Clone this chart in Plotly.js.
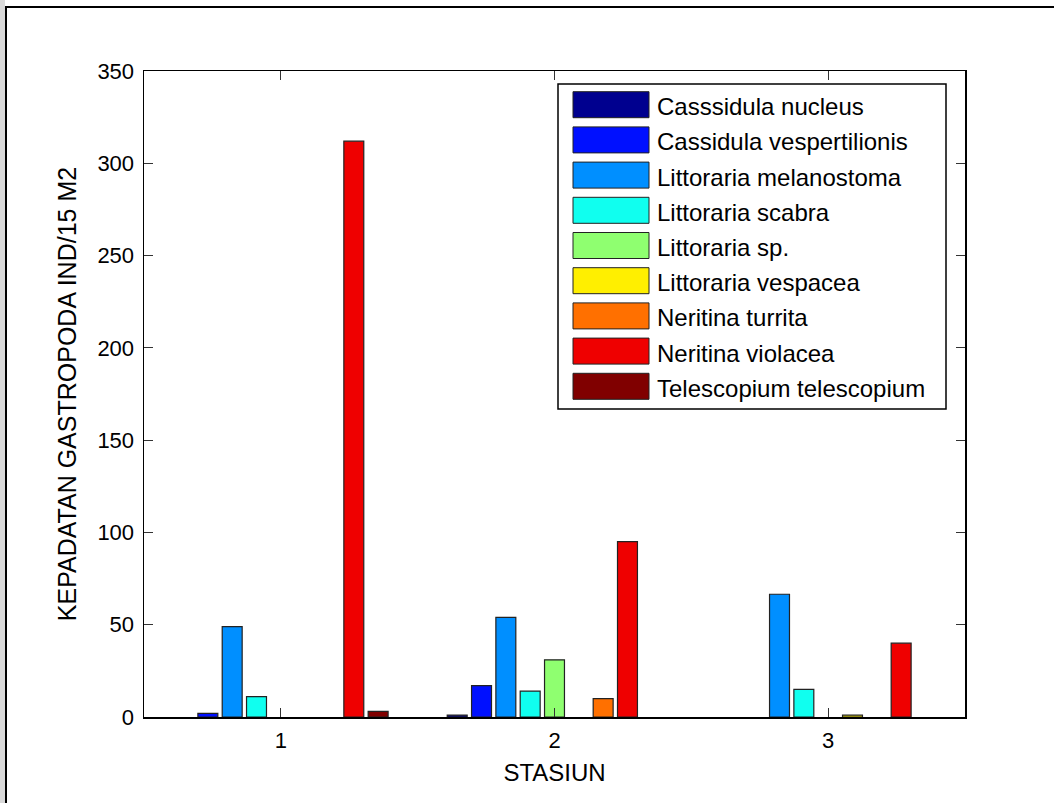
<!DOCTYPE html>
<html>
<head>
<meta charset="utf-8">
<script src="https://cdn.plot.ly/plotly-3.0.1.min.js"></script>
<style>
  html, body { margin: 0; padding: 0; background: #ffffff; }
  #wrap { position: relative; width: 1054px; height: 803px; overflow: hidden; }
  #chart { position: absolute; left: 0; top: 0; width: 1054px; height: 803px; }
  #strip { position: absolute; left: 0; top: 0; width: 5px; height: 803px; background: #d9d9d9; pointer-events: none; }
  #frame { position: absolute; left: 5px; top: 6px; width: 1060px; height: 820px;
           border-left: 2px solid #000; border-top: 2px solid #000; pointer-events: none; }
</style>
</head>
<body>
<div id="wrap">
  <div id="chart"></div>
  <div id="strip"></div>
  <div id="frame"></div>
</div>
<script>
// ---- data ----
const stations = [1, 2, 3];
const stationLabels = ['1', '2', '3'];
const species = [
  'Casssidula nucleus',
  'Cassidula vespertilionis',
  'Littoraria melanostoma',
  'Littoraria scabra',
  'Littoraria sp.',
  'Littoraria vespacea',
  'Neritina turrita',
  'Neritina violacea',
  'Telescopium telescopium'
];
const casssidulaNucleus       = [0, 1, 0];
const cassidulaVespertilionis = [2, 17, 0];
const littorariaMelanostoma   = [49, 54, 66.5];
const littorariaScabra        = [11, 14, 15];
const littorariaSp            = [0, 31, 0];
const littorariaVespacea      = [0, 0, 1];
const neritinaTurrita         = [0, 10, 0];
const neritinaViolacea        = [312, 95, 40];
const telescopiumTelescopium  = [3, 0, 0];
const seriesValues = [casssidulaNucleus, cassidulaVespertilionis, littorariaMelanostoma,
  littorariaScabra, littorariaSp, littorariaVespacea, neritinaTurrita, neritinaViolacea,
  telescopiumTelescopium];
const colors = ['#00008F', '#0010FF', '#008FFF', '#10FFEF', '#8FFF70', '#FFEF00', '#FF7000', '#EF0000', '#800000'];
const yTicks = [0, 50, 100, 150, 200, 250, 300, 350];

// ---- layout geometry ----
const W = 1054, H = 803;
const mL = 144, mR = 89, mT = 71, mB = 86;
const PW = W - mL - mR, PH = H - mT - mB;
const px2x = p => (p - mL) / PW;
const py2y = p => (H - mB - p) / PH;
const FONT = 'Arial, "Liberation Sans", Helvetica, sans-serif';

const traces = species.map((name, i) => ({
  type: 'bar',
  name: name,
  x: stations,
  y: seriesValues[i],
  marker: {
    color: colors[i],
    line: { color: '#222222', width: seriesValues[i].map(v => (v === 0 ? 0 : 1.2)) }
  },
  hoverinfo: 'x+y+name'
}));

// custom MATLAB-style legend
const shapes = [];
const annotations = [];
shapes.push({
  type: 'rect', xref: 'paper', yref: 'paper',
  x0: px2x(558), x1: px2x(946), y0: py2y(409), y1: py2y(84),
  fillcolor: '#ffffff', line: { color: '#000000', width: 1.5 }, layer: 'above'
});
const rowTop = 91.7, rowPitch = 35.2, swH = 26;
species.forEach((name, i) => {
  const top = rowTop + rowPitch * i;
  shapes.push({
    type: 'rect', xref: 'paper', yref: 'paper',
    x0: px2x(573), x1: px2x(649), y0: py2y(top + swH), y1: py2y(top),
    fillcolor: colors[i], line: { color: '#222222', width: 1 }, layer: 'above'
  });
  annotations.push({
    xref: 'paper', yref: 'paper', x: px2x(655), y: py2y(top + swH / 2 + 2),
    xanchor: 'left', yanchor: 'middle', showarrow: false,
    text: name, font: { family: FONT, size: 24, color: '#000000' }
  });
});

const layout = {
  width: W, height: H,
  margin: { l: mL, r: mR, t: mT, b: mB, pad: 0 },
  paper_bgcolor: 'rgba(0,0,0,0)',
  plot_bgcolor: '#ffffff',
  barmode: 'group',
  bargap: 0.2,
  bargroupgap: 0.18,
  showlegend: false,
  font: { family: FONT, color: '#000000' },
  xaxis: {
    range: [0.5, 3.5],
    tickmode: 'array', tickvals: stations, ticktext: stationLabels,
    ticks: 'inside', ticklen: 9, tickwidth: 1, tickcolor: '#333333',
    showline: true, linecolor: '#000000', linewidth: 1.5, mirror: 'ticks',
    showgrid: false, zeroline: false,
    tickfont: { family: FONT, size: 22, color: '#000000' },
    ticklabelstandoff: 3,
    title: { text: 'STASIUN', font: { family: FONT, size: 24, color: '#000000' }, standoff: 12 }
  },
  yaxis: {
    range: [0, 350],
    tickmode: 'array', tickvals: yTicks, ticktext: yTicks.map(String),
    ticks: 'inside', ticklen: 9, tickwidth: 1, tickcolor: '#333333',
    showline: true, linecolor: '#000000', linewidth: 1.5, mirror: 'ticks',
    showgrid: false, zeroline: false,
    tickfont: { family: FONT, size: 22, color: '#000000' },
    ticklabelstandoff: 4,
    title: { text: 'KEPADATAN GASTROPODA IND/15 M2', font: { family: FONT, size: 25, color: '#000000' }, standoff: 13 }
  },
  shapes: shapes,
  annotations: annotations
};

Plotly.newPlot('chart', traces, layout, { displayModeBar: false, staticPlot: true });
</script>
</body>
</html>
